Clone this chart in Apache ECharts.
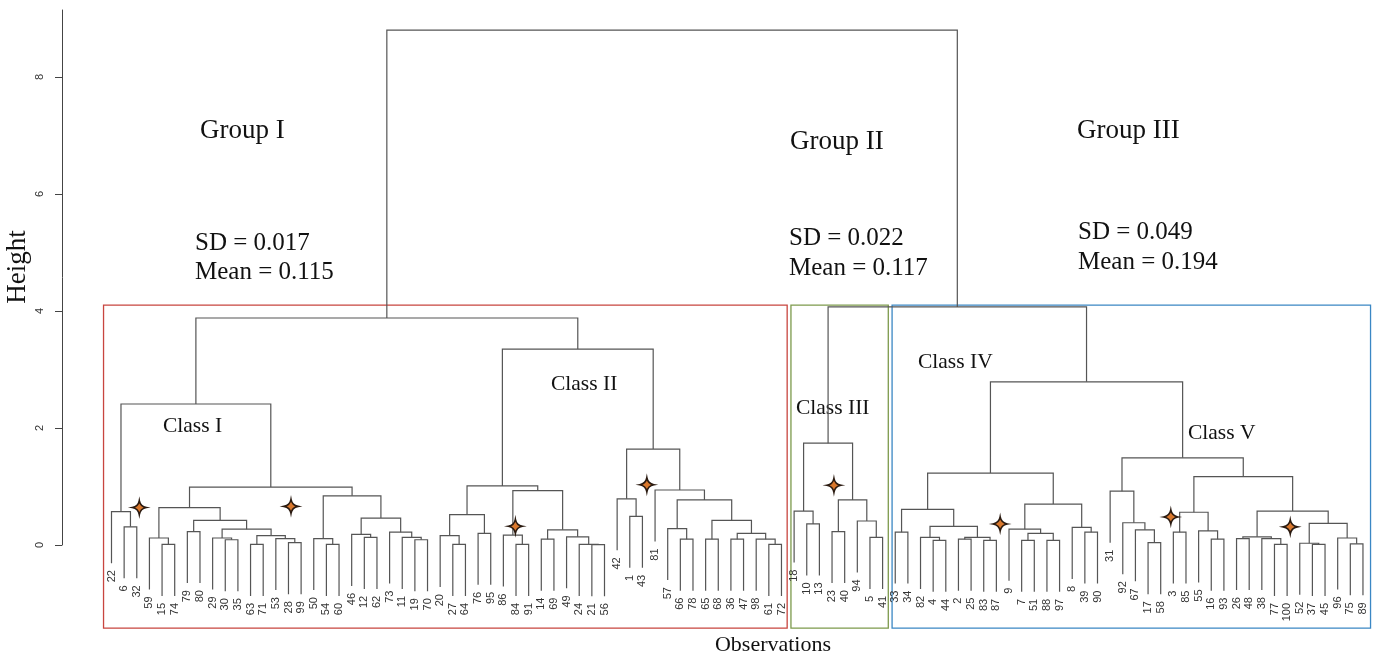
<!DOCTYPE html>
<html><head><meta charset="utf-8">
<script src="https://cdn.jsdelivr.net/npm/echarts@6/dist/echarts.min.js"></script>
<style>html,body{margin:0;padding:0;background:#fff}#c{width:1376px;height:660px}</style>
</head><body><div id="c"></div>
<script>
// ---- data ----
const leafOrder = [22,6,32,59,15,74,79,80,29,30,35,63,71,53,28,99,50,54,60,46,12,62,73,11,19,70,
  20,27,64,76,95,86,84,91,14,69,49,24,21,56,42,1,43,81,57,66,78,65,68,36,47,98,61,72,
  18,10,13,23,40,94,5,41,
  33,34,82,4,44,2,25,83,87,9,7,51,88,97,8,39,90,
  31,92,67,17,58,3,85,55,16,93,26,48,38,77,100,52,37,45,96,75,89];

// nodes: [height, left, right]; numbers are observations
const classI = [2.41,
  [0.57, 22, [0.31, 6, 32]],
  [0.99,
    [0.64,
      [0.12, 59, [0.01, 15, 74]],
      [0.42,
        [0.23, 79, 80],
        [0.27,
          [0.12, 29, [0.09, 30, 35]],
          [0.16, [0.01, 63, 71], [0.11, 53, [0.04, 28, 99]]]]]],
    [0.84,
      [0.11, 50, [0.01, 54, 60]],
      [0.46,
        [0.18, 46, [0.13, 12, 62]],
        [0.22, 73, [0.13, 11, [0.09, 19, 70]]]]]]];

const classII = [3.35,
  [1.01,
    [0.52, [0.16, 20, [0.01, 27, 64]], [0.20, 76, 95]],
    [0.93,
      [0.17, 86, [0.01, 84, 91]],
      [0.26, [0.10, 14, 69], [0.14, 49, [0.01, 24, [0.005, 21, 56]]]]]],
  [1.64,
    [0.79, 42, [0.49, 1, 43]],
    [0.94, 81,
      [0.77,
        [0.28, 57, [0.10, 66, 78]],
        [0.42,
          [0.10, 65, 68],
          [0.20, [0.10, 36, 47], [0.10, 98, [0.01, 61, 72]]]]]]]];

const classIII = [1.74,
  [0.58, 18, [0.36, 10, 13]],
  [0.77, [0.23, 23, 40], [0.41, 94, [0.13, 5, 41]]]];

const classIV = [1.23,
  [0.61,
    [0.22, 33, 34],
    [0.32,
      [0.13, 82, [0.08, 4, 44]],
      [0.13, [0.10, 2, 25], [0.08, 83, 87]]]],
  [0.70,
    [0.27, 9, [0.20, [0.08, 7, 51], [0.08, 88, 97]]],
    [0.30, 8, [0.22, 39, 90]]]];

const classV = [1.49,
  [0.92, 31, [0.38, 92, [0.26, 67, [0.04, 17, 58]]]],
  [1.17,
    [0.56, [0.22, 3, 85], [0.24, 55, [0.10, 16, 93]]],
    [0.58,
      [0.14, [0.11, 26, 48], [0.11, 38, [0.01, 77, 100]]],
      [0.37, [0.03, 52, [0.01, 37, 45]], [0.12, 96, [0.02, 75, 89]]]]]];

const rootHeight = 8.80;
const groupIHeight = 3.88;
const groupIIandIIIHeight = 4.07;
const groupIIIHeight = 2.79;
const hangHeight = 0.88;
const yTicks = [0, 2, 4, 6, 8];

const starLeafPos = [2.2, 14.2, 31.95, 42.35, 57.15, 70.3, 83.8, 93.25];
const starHeight  = [0.64, 0.66, 0.32, 1.03, 1.02, 0.36, 0.48, 0.31];

// ---- build dendrogram segments ----
const tree = [rootHeight,
  [groupIHeight, classI, classII],
  [groupIIandIIIHeight, classIII, [groupIIIHeight, classIV, classV]]];
const pos = {};
leafOrder.forEach((l, i) => pos[l] = i);
const segs = [];
const leaves = [];
function walk(node) {
  if (typeof node === 'number') return { x: pos[node], leaf: true, label: node };
  const h = node[0];
  const a = walk(node[1]);
  const b = walk(node[2]);
  const ba = a.leaf ? h - hangHeight : a.h;
  const bb = b.leaf ? h - hangHeight : b.h;
  if (a.leaf) leaves.push([a.x, ba, a.label]);
  if (b.leaf) leaves.push([b.x, bb, b.label]);
  segs.push([[a.x, ba], [a.x, h], [b.x, h], [b.x, bb]]);
  return { x: (a.x + b.x) / 2, h: h };
}
walk(tree);

// group boxes (leaf-index extents)
const boxes = [
  { x0: -0.63, x1: 53.45, color: '#c8453f' },
  { x0: 53.75, x1: 61.45, color: '#7d9a4c' },
  { x0: 61.75, x1: 99.6, color: '#3b87c4' }
];
const boxTop = 4.10, boxBottom = -1.42;

const serif = '"Liberation Serif", "Times New Roman", serif';
const chart = echarts.init(document.getElementById('c'), null, { renderer: 'canvas' });
const sp = 12.641, x0px = 111.5;
function txt(x, y, text, size) {
  return { type: 'text', x: x, y: y, style: { text: text, font: size + 'px ' + serif, fill: '#111', align: 'left', verticalAlign: 'middle' } };
}
const option = {
  animation: false,
  backgroundColor: '#fff',
  grid: [
    { left: x0px - sp, width: 101 * sp, top: 545 - 9.3 * 58.5, height: 10.9 * 58.5, outerBoundsMode: 'none', containLabel: false },
    { left: 62, width: 1, top: 10, height: 535, outerBoundsMode: 'none', containLabel: false }
  ],
  xAxis: [
    { type: 'value', gridIndex: 0, min: -1, max: 100, show: false },
    { type: 'value', gridIndex: 1, min: 0, max: 1, show: false }
  ],
  yAxis: [
    { type: 'value', gridIndex: 0, min: -1.6, max: 9.3, show: false },
    { type: 'value', gridIndex: 1, min: 0, max: 535 / 58.5,
      axisLine: { show: true, lineStyle: { color: '#444', width: 1 } },
      axisTick: { show: true, length: 7, customValues: yTicks, lineStyle: { color: '#444' } },
      axisLabel: { show: true, rotate: 90, customValues: yTicks, fontSize: 11, color: '#333',
        fontFamily: '"Liberation Sans", Arial, sans-serif', margin: 17 },
      splitLine: { show: false }
    }
  ],
  series: [
    {
      type: 'custom', coordinateSystem: 'cartesian2d', xAxisIndex: 0, yAxisIndex: 0,
      clip: false, silent: true,
      data: boxes.map((b, i) => [b.x0, boxTop, i]),
      renderItem: function (params, api) {
        const b = boxes[params.dataIndex];
        const p0 = api.coord([b.x0, boxTop]);
        const p1 = api.coord([b.x1, boxBottom]);
        return { type: 'rect', shape: { x: p0[0], y: p0[1], width: p1[0] - p0[0], height: p1[1] - p0[1] },
          style: { fill: 'none', stroke: b.color, lineWidth: 1.3 } };
      }
    },
    {
      type: 'custom', coordinateSystem: 'cartesian2d', xAxisIndex: 0, yAxisIndex: 0,
      clip: false, silent: true,
      data: segs.map((s, i) => [s[1][0], s[1][1], i]),
      renderItem: function (params, api) {
        const s = segs[params.dataIndex];
        return { type: 'polyline', shape: { points: s.map(p => api.coord(p)) },
          style: { fill: 'none', stroke: '#555', lineWidth: 1.2 } };
      }
    },
    {
      type: 'custom', coordinateSystem: 'cartesian2d', xAxisIndex: 0, yAxisIndex: 0,
      clip: false, silent: true,
      data: leaves.map(l => [l[0], l[1], l[2]]),
      renderItem: function (params, api) {
        const l = leaves[params.dataIndex];
        const p = api.coord([l[0], l[1]]);
        return { type: 'text', x: p[0], y: p[1] + 7, rotation: Math.PI / 2,
          style: { text: String(l[2]), align: 'right', verticalAlign: 'middle',
            font: '11px "Liberation Sans", Arial, sans-serif', fill: '#333' } };
      }
    },
    {
      type: 'scatter', xAxisIndex: 0, yAxisIndex: 0, silent: true,
      data: starLeafPos.map((x, i) => [x, starHeight[i]]),
      symbol: 'path://M0,-9 Q1.4,-1.4 9,0 Q1.4,1.4 0,9 Q-1.4,1.4 -9,0 Q-1.4,-1.4 0,-9 Z',
      symbolSize: 14,
      itemStyle: { color: '#d9782d', borderColor: '#2a1a10', borderWidth: 1.6, opacity: 1 },
      z: 5
    }
  ],
  graphic: [
    txt(200, 131, 'Group I', 27),
    txt(790, 142, 'Group II', 27),
    txt(1077, 131, 'Group III', 27),
    txt(195, 243, 'SD = 0.017', 25),
    txt(195, 272, 'Mean = 0.115', 25),
    txt(789, 238, 'SD = 0.022', 25),
    txt(789, 268, 'Mean = 0.117', 25),
    txt(1078, 232, 'SD = 0.049', 25),
    txt(1078, 262, 'Mean = 0.194', 25),
    txt(163, 426, 'Class I', 21.5),
    txt(551, 384, 'Class II', 21.5),
    txt(796, 408, 'Class III', 21.5),
    txt(918, 362, 'Class IV', 21.5),
    txt(1188, 433, 'Class V', 21.5),
    { type: 'text', x: 18, y: 267, rotation: Math.PI / 2, style: { text: 'Height', font: '27px ' + serif, fill: '#111', align: 'center', verticalAlign: 'middle' } },
    { type: 'text', x: 773, y: 645, style: { text: 'Observations', font: '22px ' + serif, fill: '#111', align: 'center', verticalAlign: 'middle' } }
  ]
};
chart.setOption(option);
</script>
</body></html>
